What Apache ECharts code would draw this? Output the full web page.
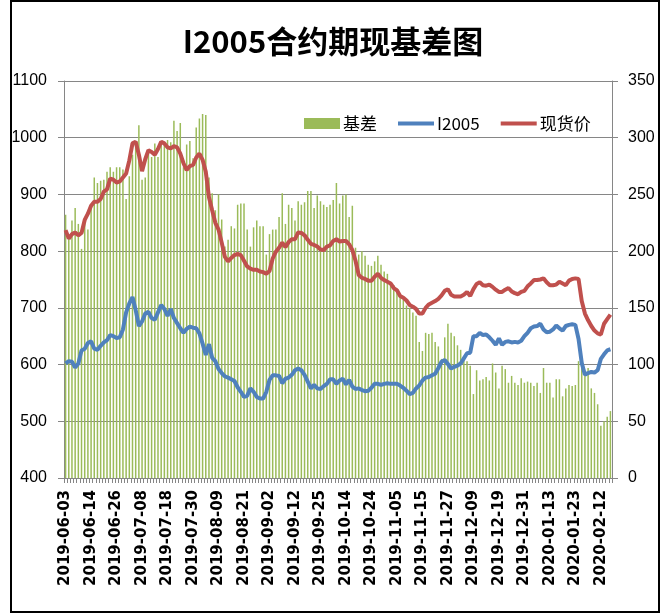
<!DOCTYPE html>
<html>
<head>
<meta charset="utf-8">
<script src="https://cdn.jsdelivr.net/npm/echarts@6/dist/echarts.min.js"></script>
<style>
html,body{margin:0;padding:0;background:#fff;}
#chart{width:666px;height:614px;}
</style>
</head>
<body>
<div id="chart"></div>
<script>
var dates = [
'2019-06-03','2019-06-04','2019-06-05','2019-06-06','2019-06-10','2019-06-11','2019-06-12','2019-06-13','2019-06-14','2019-06-17',
'2019-06-18','2019-06-19','2019-06-20','2019-06-21','2019-06-24','2019-06-25','2019-06-26','2019-06-27','2019-06-28','2019-07-01',
'2019-07-02','2019-07-03','2019-07-04','2019-07-05','2019-07-08','2019-07-09','2019-07-10','2019-07-11','2019-07-12','2019-07-15',
'2019-07-16','2019-07-17','2019-07-18','2019-07-19','2019-07-22','2019-07-23','2019-07-24','2019-07-25','2019-07-26','2019-07-29',
'2019-07-30','2019-07-31','2019-08-01','2019-08-02','2019-08-05','2019-08-06','2019-08-07','2019-08-08','2019-08-09','2019-08-12',
'2019-08-13','2019-08-14','2019-08-15','2019-08-16','2019-08-19','2019-08-20','2019-08-21','2019-08-22','2019-08-23','2019-08-26',
'2019-08-27','2019-08-28','2019-08-29','2019-08-30','2019-09-02','2019-09-03','2019-09-04','2019-09-05','2019-09-06','2019-09-09',
'2019-09-10','2019-09-11','2019-09-12','2019-09-16','2019-09-17','2019-09-18','2019-09-19','2019-09-20','2019-09-23','2019-09-24',
'2019-09-25','2019-09-26','2019-09-27','2019-09-30','2019-10-08','2019-10-09','2019-10-10','2019-10-11','2019-10-14','2019-10-15',
'2019-10-16','2019-10-17','2019-10-18','2019-10-21','2019-10-22','2019-10-23','2019-10-24','2019-10-25','2019-10-28','2019-10-29',
'2019-10-30','2019-10-31','2019-11-01','2019-11-04','2019-11-05','2019-11-06','2019-11-07','2019-11-08','2019-11-11','2019-11-12',
'2019-11-13','2019-11-14','2019-11-15','2019-11-18','2019-11-19','2019-11-20','2019-11-21','2019-11-22','2019-11-25','2019-11-26',
'2019-11-27','2019-11-28','2019-11-29','2019-12-02','2019-12-03','2019-12-04','2019-12-05','2019-12-06','2019-12-09','2019-12-10',
'2019-12-11','2019-12-12','2019-12-13','2019-12-16','2019-12-17','2019-12-18','2019-12-19','2019-12-20','2019-12-23','2019-12-24',
'2019-12-25','2019-12-26','2019-12-27','2019-12-30','2019-12-31','2020-01-02','2020-01-03','2020-01-06','2020-01-07','2020-01-08',
'2020-01-09','2020-01-10','2020-01-13','2020-01-14','2020-01-15','2020-01-16','2020-01-17','2020-01-20','2020-01-21','2020-01-22',
'2020-01-23','2020-02-03','2020-02-04','2020-02-05','2020-02-06','2020-02-07','2020-02-10','2020-02-11','2020-02-12','2020-02-13',
'2020-02-14','2020-02-17'
];

// 基差 (right axis)
var basis = [
232,215,227,238,224,202,228,219,239,265,260,262,263,270,274,270,274,274,272,246,
266,285,297,311,263,265,288,283,295,283,294,294,298,296,315,306,313,274,294,297,
282,309,317,321,320,265,251,236,250,228,204,210,222,220,241,242,242,219,204,221,
227,222,222,197,215,219,219,230,251,224,241,238,227,244,241,243,253,253,238,249,
244,241,239,241,245,260,242,249,250,230,240,203,197,200,196,188,187,191,196,188,
182,180,173,170,167,160,157,152,150,146,143,120,112,128,127,128,120,116,105,124,
136,128,125,117,113,106,103,99,74,95,86,87,89,86,101,93,79,99,96,84,
90,84,82,88,84,85,84,81,84,75,97,84,84,71,87,87,72,79,82,81,
82,103,98,94,97,79,75,65,46,50,54,59
];

// I2005 futures (left axis)
var futures = [
602,606,605,595,602,625,628,638,641,628,626,633,639,643,652,650,647,648,662,692,
708,719,696,668,676,690,693,682,679,692,705,698,686,698,682,673,664,656,663,667,
665,664,655,637,617,636,612,606,592,585,579,577,574,571,560,552,543,545,558,552,
543,540,540,552,573,581,581,580,567,575,577,582,590,593,590,582,570,558,564,558,
557,562,566,574,574,566,572,575,565,573,561,557,558,555,553,554,559,566,566,564,
566,567,566,566,566,563,559,554,548,550,558,563,572,577,578,581,584,594,605,608,
601,593,596,598,602,611,620,621,650,650,656,652,653,648,642,635,646,635,640,641,
639,640,639,642,650,656,664,667,668,672,662,657,658,662,669,664,660,668,670,671,
670,645,603,582,585,587,586,590,610,618,625,627
];

// 现货价 spot (left axis)
var spot = [
837,822,830,833,828,832,855,866,880,887,887,892,905,909,928,926,921,923,930,937,
960,990,993,970,941,962,978,975,970,980,993,990,983,981,985,983,972,955,943,950,
952,965,972,961,940,895,872,850,838,815,790,782,788,793,795,793,783,773,769,767,
767,764,763,760,765,787,799,806,815,807,816,821,821,833,832,828,820,813,811,808,
803,802,808,810,818,821,817,818,818,812,802,783,758,753,751,748,748,755,760,753,
749,746,743,735,731,721,718,713,705,702,698,690,690,700,706,709,712,716,722,730,
733,723,720,720,720,723,728,721,733,742,745,740,739,741,737,732,728,728,732,735,
729,726,724,728,730,738,743,749,749,750,752,745,740,740,741,746,743,740,748,751,
752,751,712,690,678,668,660,655,653,672,680,688
];

var leftTicks = {min: 400, max: 1100, interval: 100};
var rightTicks = {min: 0, max: 350, interval: 50};

var lineIcon = 'path://M0,0M0,11M0,3.5L36,3.5L36,7.5L0,7.5Z';

var chart = echarts.init(document.getElementById('chart'), null, {renderer: 'canvas'});
var axisGray = '#868686';
chart.setOption({
  animation: false,
  backgroundColor: '#fff',
  title: {
    text: 'I2005合约期现基差图',
    left: 'center',
    top: 21,
    textStyle: {fontFamily: 'Noto Sans CJK SC', fontSize: 31, fontWeight: 'bold', color: '#000'}
  },
  legend: {
    left: 299,
    top: 110,
    itemWidth: 36,
    itemHeight: 11,
    itemGap: 21,
    textStyle: {fontFamily: 'Noto Sans CJK SC', fontSize: 17, color: '#000', padding: [0, 0, 0, -2]},
    data: [
      {name: '基差', icon: 'rect'},
      {name: 'I2005', icon: lineIcon},
      {name: '现货价', icon: lineIcon}
    ]
  },
  grid: {left: 64, right: 54, top: 81, bottom: 136, containLabel: false},
  xAxis: {
    type: 'category',
    data: dates,
    boundaryGap: true,
    axisLine: {lineStyle: {color: axisGray, width: 1}},
    axisTick: {show: true, interval: 0, length: 5, lineStyle: {color: axisGray}},
    axisLabel: {
      interval: 7, rotate: 90, margin: 12,
      fontFamily: 'DejaVu Sans', fontSize: 15, fontWeight: 'bold', color: '#000'
    },
    splitLine: {show: false}
  },
  yAxis: [
    {
      type: 'value', position: 'left',
      min: leftTicks.min, max: leftTicks.max, interval: leftTicks.interval,
      axisLine: {show: true, lineStyle: {color: axisGray}},
      axisTick: {show: true, length: 6, lineStyle: {color: axisGray}},
      axisLabel: {margin: 17, fontFamily: 'Liberation Sans', fontSize: 16, color: '#000',
        formatter: function (v) { return String(v); }},
      splitLine: {show: true, lineStyle: {color: axisGray, width: 1}}
    },
    {
      type: 'value', position: 'right',
      min: rightTicks.min, max: rightTicks.max, interval: rightTicks.interval,
      axisLine: {show: true, lineStyle: {color: axisGray}},
      axisTick: {show: true, length: 6, lineStyle: {color: axisGray}},
      axisLabel: {margin: 16, fontFamily: 'Liberation Sans', fontSize: 16, color: '#000',
        formatter: function (v) { return String(v); }},
      splitLine: {show: false}
    }
  ],
  series: [
    {
      name: '基差', type: 'bar', yAxisIndex: 1, data: basis,
      barWidth: '47%',
      itemStyle: {color: '#9BBB59'}
    },
    {
      name: 'I2005', type: 'line', yAxisIndex: 0, data: futures,
      symbol: 'none', color: '#4F81BD',
      lineStyle: {color: '#4F81BD', width: 4}
    },
    {
      name: '现货价', type: 'line', yAxisIndex: 0, data: spot,
      symbol: 'none', color: '#C0504D',
      lineStyle: {color: '#C0504D', width: 4}
    }
  ],
  graphic: [
    {
      type: 'rect', silent: true,
      shape: {x: 11, y: 1, width: 648, height: 611},
      style: {fill: 'none', stroke: '#000', lineWidth: 2}
    }
  ]
});
</script>
</body>
</html>
